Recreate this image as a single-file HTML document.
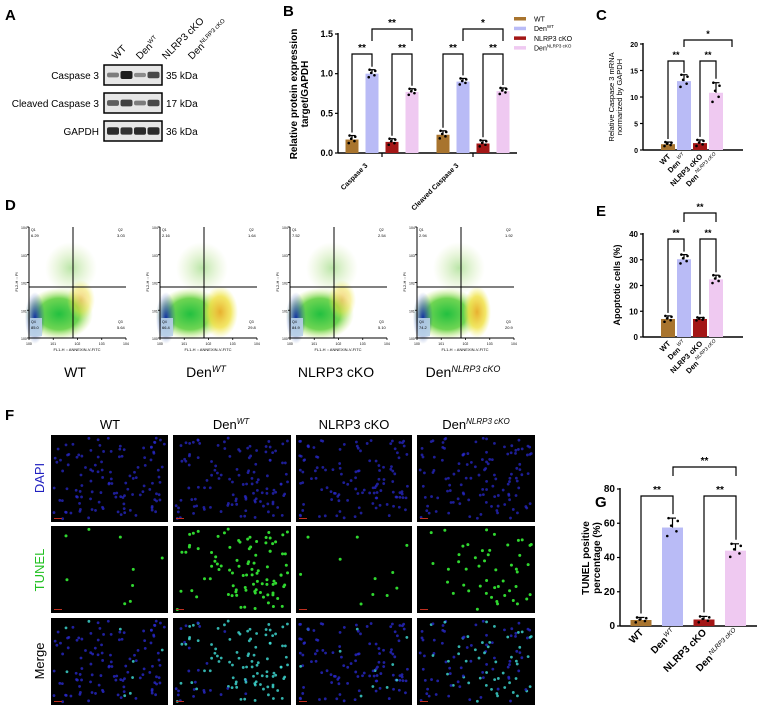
<!DOCTYPE html>
<html><head><meta charset="utf-8">
<style>
body{margin:0;background:#fff;width:760px;height:709px;overflow:hidden;position:relative;font-family:"Liberation Sans",Arial,sans-serif}
svg{position:absolute;left:0;top:0}
</style></head>
<body>
<svg id="fig" width="760" height="709" viewBox="0 0 760 709" font-family="Liberation Sans, Arial, sans-serif">
<defs>
<radialGradient id="gGreen" cx="50%" cy="50%" r="50%"><stop offset="0" stop-color="#22c040"/><stop offset="0.6" stop-color="#5fd040" stop-opacity="0.9"/><stop offset="1" stop-color="#c8e860" stop-opacity="0"/></radialGradient>
<radialGradient id="gBlue" cx="50%" cy="50%" r="50%"><stop offset="0" stop-color="#1030a0"/><stop offset="1" stop-color="#2050b0" stop-opacity="0"/></radialGradient>
<radialGradient id="gYel" cx="50%" cy="50%" r="50%"><stop offset="0" stop-color="#e8b030"/><stop offset="0.6" stop-color="#f0e040" stop-opacity="0.8"/><stop offset="1" stop-color="#f0f060" stop-opacity="0"/></radialGradient>
<radialGradient id="gSpray" cx="50%" cy="50%" r="50%"><stop offset="0" stop-color="#80d060" stop-opacity="0.55"/><stop offset="1" stop-color="#c0e080" stop-opacity="0"/></radialGradient>
</defs>

<!-- Panel A -->
<g>
<text x="5" y="20" font-size="15" font-weight="bold">A</text>
<g font-size="10" text-anchor="start">
<text transform="translate(116,60) rotate(-45)">WT</text>
<text transform="translate(140,60) rotate(-45)">Den<tspan font-size="6" dy="-4">WT</tspan></text>
<text transform="translate(166,60) rotate(-45)">NLRP3 cKO</text>
<text transform="translate(192,60) rotate(-45)">Den<tspan font-size="6" dy="-4">NLRP3 cKO</tspan></text>
</g>
<g font-size="10" text-anchor="end">
<text x="99" y="79">Caspase 3</text>
<text x="99" y="107">Cleaved Caspase 3</text>
<text x="99" y="135">GAPDH</text>
</g>
<g font-size="10">
<text x="166" y="79">35 kDa</text>
<text x="166" y="107">17 kDa</text>
<text x="166" y="135">36 kDa</text>
</g>
<g id="blots"></g>
</g>

<!-- Panel B -->
<g id="chartB">
<text x="283" y="16" font-size="15" font-weight="bold">B</text>
<text transform="translate(297,94) rotate(-90)" text-anchor="middle" font-size="10" font-weight="bold">Relative protein expression</text>
<text transform="translate(308,94) rotate(-90)" text-anchor="middle" font-size="10" font-weight="bold">target/GAPDH</text>
</g>

<!-- Panel C -->
<g id="chartC">
<text x="596" y="20" font-size="15" font-weight="bold">C</text>
<text transform="translate(614,97) rotate(-90)" text-anchor="middle" font-size="7.5">Relative Caspase 3 mRNA</text>
<text transform="translate(622,97) rotate(-90)" text-anchor="middle" font-size="7.5">normarized by GAPDH</text>
</g>

<!-- Panel D -->
<g id="panelD">
<text x="5" y="210" font-size="15" font-weight="bold">D</text>
</g>

<!-- Panel E -->
<g id="chartE">
<text x="596" y="216" font-size="15" font-weight="bold">E</text>
<text transform="translate(620,285) rotate(-90)" text-anchor="middle" font-size="9" font-weight="bold">Apoptotic cells (%)</text>
</g>

<!-- Panel F -->
<g id="panelF">
<text x="5" y="420" font-size="15" font-weight="bold">F</text>
<g font-size="13" text-anchor="middle">
<text x="110" y="429">WT</text>
<text x="231" y="429">Den<tspan font-size="8" dy="-5" font-style="italic">WT</tspan></text>
<text x="354" y="429">NLRP3 cKO</text>
<text x="476" y="429">Den<tspan font-size="8" dy="-5" font-style="italic">NLRP3 cKO</tspan></text>
</g>
<g font-size="13" text-anchor="middle">
<text transform="translate(44,478) rotate(-90)" fill="#2020c0">DAPI</text>
<text transform="translate(44,570) rotate(-90)" fill="#20c020">TUNEL</text>
<text transform="translate(44,661) rotate(-90)" fill="#000">Merge</text>
</g>
</g>

<!-- Panel G -->
<g id="chartG">
<text x="595" y="507" font-size="15" font-weight="bold">G</text>
<text transform="translate(589,558) rotate(-90)" text-anchor="middle" font-size="10" font-weight="bold">TUNEL positive</text>
<text transform="translate(600,558) rotate(-90)" text-anchor="middle" font-size="10" font-weight="bold">percentage (%)</text>
</g>
</svg>

<script>
// ---- data ----
const groupsB = ["Caspase 3", "Cleaved Caspase 3"];
const seriesNames = ["WT", "DenWT", "NLRP3 cKO", "DenNLRP3 cKO"];
const valuesB_casp3 = [0.17, 1.00, 0.14, 0.77];
const valuesB_cleaved = [0.23, 0.90, 0.12, 0.78];
const errB_casp3 = [0.05, 0.05, 0.04, 0.04];
const errB_cleaved = [0.05, 0.04, 0.04, 0.04];
const ticksB = [0, 0.5, 1.0, 1.5];
const valuesC = [1.1, 13.0, 1.3, 10.8];
const errC = [0.4, 1.2, 0.6, 1.9];
const ticksC = [0, 5, 10, 15, 20];
const valuesE = [7.0, 30.2, 7.0, 22.4];
const errE = [1.2, 1.8, 0.6, 1.6];
const ticksE = [0, 10, 20, 30, 40];
const valuesG = [3.5, 57.5, 3.8, 44.0];
const errG = [1.5, 5.5, 1.8, 4.0];
const ticksG = [0, 20, 40, 60, 80];
const flowQ1 = ["6.29", "2.16", "7.52", "2.94"];
const flowQ2 = ["3.03", "1.64", "2.54", "1.92"];
const flowQ3 = ["5.64", "29.8", "5.10", "20.9"];
const flowQ4 = ["85.0", "66.4", "84.9", "74.2"];
const tunelDensity = [0.08, 0.95, 0.07, 0.5];

const colors = ["#a8742e", "#b9bbf6", "#a31616", "#efc9f1"];
const NS = "http://www.w3.org/2000/svg";
function el(parent, tag, attrs, text) {
  const e = document.createElementNS(NS, tag);
  for (const k in attrs) e.setAttribute(k, attrs[k]);
  if (text !== undefined) e.textContent = text;
  parent.appendChild(e);
  return e;
}
// deterministic pseudo-random for image textures only
let seed = 7;
function rnd() { seed = (seed * 16807) % 2147483647; return (seed - 1) / 2147483646; }

// ---- blots ----
(function () {
  const g = document.getElementById("blots");
  const rows = [[65, 85, [0.35, 1, 0.25, 0.7]], [93, 113, [0.55, 0.75, 0.35, 0.7]], [121, 141, [0.9, 0.85, 0.9, 0.9]]];
  rows.forEach((r, ri) => {
    const box = el(g, "rect", { x: 104, y: r[0], width: 58, height: r[1] - r[0], fill: "#e6e6e6", stroke: "#000", "stroke-width": 1.5 });
    
    
    r[2].forEach((d, i) => {
      const b = el(g, "rect", { x: 107 + i * 13.5, y: (r[0] + r[1]) / 2 - (1.5 + d * 2.5), width: 12, height: 3 + d * 5, rx: 2, fill: "#111", opacity: 0.25 + d * 0.7 });
      
      
    });
  });
})();

// ---- generic bar chart ----
function barChart(gid, cfg) {
  const g = document.getElementById(gid);
  const y = v => cfg.y0 - (v / cfg.max) * (cfg.y0 - cfg.yTop);
  const ya = el(g, "line", { x1: cfg.ax, y1: cfg.yTop - 1, x2: cfg.ax, y2: cfg.y0, stroke: "#000", "stroke-width": 1.4 });
  
  
  const xa = el(g, "line", { x1: cfg.ax, y1: cfg.y0, x2: cfg.axEnd, y2: cfg.y0, stroke: "#000", "stroke-width": 1.4 });
  
  
  cfg.ticks.forEach(t => {
    el(g, "line", { x1: cfg.ax - 3, y1: y(t), x2: cfg.ax, y2: y(t), stroke: "#000", "stroke-width": 1.2 });
    const tl = el(g, "text", { x: cfg.ax - 5, y: y(t) + 3, "text-anchor": "end", "font-size": cfg.tickFs, "font-weight": "bold" }, cfg.fmt(t));
    
    
  });
  cfg.sets.forEach((set, si) => {
    set.vals.forEach((v, i) => {
      const cx = set.x0 + i * cfg.step;
      const bar = el(g, "rect", { x: cx - cfg.bw / 2, y: y(v), width: cfg.bw, height: cfg.y0 - y(v), fill: colors[i] });
      
      
      const e = set.err[i];
      el(g, "line", { x1: cx, y1: y(v), x2: cx, y2: y(v + e), stroke: "#000", "stroke-width": 1.2 });
      el(g, "line", { x1: cx - 3.5, y1: y(v + e), x2: cx + 3.5, y2: y(v + e), stroke: "#000", "stroke-width": 1.2 });
      const offs = [-0.9, -0.4, 0.2, 0.7, 1.0];
      const dx = [-4, 3, -1, 4, -3];
      offs.forEach((o, k) => {
        const d = el(g, "circle", { cx: cx + dx[k] * cfg.bw / 16, cy: y(Math.max(0, v + o * e)), r: 1.3, fill: "#000" });
        
        
      });
    });
  });
  cfg.brackets.forEach(b => {
    const p = el(g, "path", { d: `M${b.x1},${b.yl} V${b.y} H${b.x2} V${b.yr}`, fill: "none", stroke: "#000", "stroke-width": 1.2 });
    
    
    const t = el(g, "text", { x: (b.x1 + b.x2) / 2, y: b.y - 3, "text-anchor": "middle", "font-size": cfg.starFs, "font-weight": "bold" }, b.label);
    
    
  });
  return y;
}
function catLabels(gid, xs, y0, fs, supFs) {
  const g = document.getElementById(gid);
  const labs = [["WT", ""], ["Den", "WT"], ["NLRP3 cKO", ""], ["Den", "NLRP3 cKO"]];
  labs.forEach((l, i) => {
    const t = el(g, "text", { transform: `translate(${xs[i] + 3},${y0 + 7}) rotate(-45)`, "text-anchor": "end", "font-size": fs, "font-weight": "bold" });
    
    
    el(t, "tspan", {}, l[0]);
    if (l[1]) el(t, "tspan", { "font-size": supFs, "font-weight": "normal", "font-style": "italic", dy: -4, dx: 1 }, l[1]);
  });
}

// B
(function () {
  const y = v => 153 - v / 1.5 * 119;
  barChart("chartB", {
    y0: 153, yTop: 34, max: 1.5, ax: 338, axEnd: 517, ticks: ticksB, tickFs: 9, starFs: 10,
    fmt: t => t.toFixed(1), bw: 13, step: 20,
    sets: [{ vals: valuesB_casp3, err: errB_casp3, x0: 352 }, { vals: valuesB_cleaved, err: errB_cleaved, x0: 443 }],
    brackets: [
      { x1: 352, x2: 372, y: 54, yl: y(valuesB_casp3[0] + errB_casp3[0]) - 3, yr: y(valuesB_casp3[1] + errB_casp3[1]) - 3, label: "**" },
      { x1: 392, x2: 412, y: 54, yl: y(valuesB_casp3[2] + errB_casp3[2]) - 3, yr: y(valuesB_casp3[3] + errB_casp3[3]) - 3, label: "**" },
      { x1: 372, x2: 412, y: 29, yl: 41, yr: 41, label: "**" },
      { x1: 443, x2: 463, y: 54, yl: y(valuesB_cleaved[0] + errB_cleaved[0]) - 3, yr: y(valuesB_cleaved[1] + errB_cleaved[1]) - 3, label: "**" },
      { x1: 483, x2: 503, y: 54, yl: y(valuesB_cleaved[2] + errB_cleaved[2]) - 3, yr: y(valuesB_cleaved[3] + errB_cleaved[3]) - 3, label: "**" },
      { x1: 463, x2: 503, y: 29, yl: 41, yr: 41, label: "*" }
    ]
  });
  const g = document.getElementById("chartB");
  [382, 473].forEach((cx, i) => {
    el(g, "line", { x1: cx, y1: 153, x2: cx, y2: 157, stroke: "#000", "stroke-width": 1.2 });
    const t = el(g, "text", { transform: `translate(${cx - 14},${166}) rotate(-45)`, "text-anchor": "end", "font-size": 7, "font-weight": "bold" }, groupsB[i]);
    
    
  });
  const legs = [["WT", ""], ["Den", "WT"], ["NLRP3 cKO", ""], ["Den", "NLRP3 cKO"]];
  legs.forEach((l, i) => {
    const yy = 19 + i * 9.7;
    const sw = el(g, "rect", { x: 514, y: yy - 2, width: 12, height: 3.5, fill: colors[i] });
    
    
    const t = el(g, "text", { x: 534, y: yy + 2.5, "font-size": 7 });
    
    
    el(t, "tspan", {}, l[0]);
    if (l[1]) el(t, "tspan", { "font-size": 4.5, dy: -3 }, l[1]);
  });
})();

// C
(function () {
  const y = v => 150 - v / 20 * 106;
  barChart("chartC", {
    y0: 150, yTop: 44, max: 20, ax: 643, axEnd: 743, ticks: ticksC, tickFs: 7, starFs: 9,
    fmt: t => String(t), bw: 14, step: 16,
    sets: [{ vals: valuesC, err: errC, x0: 668 }],
    brackets: [
      { x1: 668, x2: 684, y: 61, yl: y(valuesC[0] + errC[0]) - 3, yr: y(valuesC[1] + errC[1]) - 2, label: "**" },
      { x1: 700, x2: 716, y: 61, yl: y(valuesC[2] + errC[2]) - 3, yr: y(valuesC[3] + errC[3]) - 4, label: "**" },
      { x1: 684, x2: 732, y: 40, yl: 47, yr: 47, label: "*" }
    ]
  });
  catLabels("chartC", [668, 684, 700, 716], 150, 7.5, 5);
})();

// E
(function () {
  const y = v => 337 - v / 40 * 103;
  barChart("chartE", {
    y0: 337, yTop: 234, max: 40, ax: 643, axEnd: 743, ticks: ticksE, tickFs: 8, starFs: 9,
    fmt: t => String(t), bw: 14, step: 16,
    sets: [{ vals: valuesE, err: errE, x0: 668 }],
    brackets: [
      { x1: 668, x2: 684, y: 239, yl: y(valuesE[0] + errE[0]) - 3, yr: y(valuesE[1] + errE[1]) - 3, label: "**" },
      { x1: 700, x2: 716, y: 239, yl: y(valuesE[2] + errE[2]) - 3, yr: y(valuesE[3] + errE[3]) - 3, label: "**" },
      { x1: 684, x2: 716, y: 213, yl: 222, yr: 222, label: "**" }
    ]
  });
  catLabels("chartE", [668, 684, 700, 716], 337, 7.5, 5);
})();

// G
(function () {
  const y = v => 626 - v / 80 * 137;
  barChart("chartG", {
    y0: 626, yTop: 489, max: 80, ax: 620, axEnd: 757, ticks: ticksG, tickFs: 10, starFs: 10,
    fmt: t => String(t), bw: 21, step: 31.5,
    sets: [{ vals: valuesG, err: errG, x0: 641 }],
    brackets: [
      { x1: 641, x2: 673, y: 496, yl: y(valuesG[0] + errG[0]) - 4, yr: y(valuesG[1] + errG[1]) - 4, label: "**" },
      { x1: 704, x2: 736, y: 496, yl: y(valuesG[2] + errG[2]) - 4, yr: y(valuesG[3] + errG[3]) - 4, label: "**" },
      { x1: 673, x2: 736, y: 467, yl: 476, yr: 476, label: "**" }
    ]
  });
  catLabels("chartG", [641, 673, 704, 736], 626, 10, 6.5);
})();

// D flow cytometry
(function () {
  const g = document.getElementById("panelD");
  const lefts = [29, 160, 290, 417];
  const names = [["WT", ""], ["Den", "WT"], ["NLRP3 cKO", ""], ["Den", "NLRP3 cKO"]];
  lefts.forEach((L, i) => {
    const T = 227, B = 338, R = L + 97, qx = L + 44, qy = 287;
    const pg = el(g, "g", {});
    
    
    const den = i === 1 || i === 3;
    el(pg, "ellipse", { cx: L + 42, cy: 268, rx: 26, ry: 26, fill: "url(#gSpray)" });
    el(pg, "ellipse", { cx: L + 30, cy: 314, rx: 34, ry: 26, fill: "url(#gGreen)" });
    if (den) el(pg, "ellipse", { cx: L + 60, cy: 312, rx: i === 1 ? 18 : 14, ry: 26, fill: "url(#gYel)" });
    else el(pg, "ellipse", { cx: L + 52, cy: 300, rx: 14, ry: 20, fill: "url(#gYel)", opacity: 0.6 });
    el(pg, "ellipse", { cx: L + 6, cy: 318, rx: 10, ry: 26, fill: "url(#gBlue)" });
    el(pg, "rect", { x: L + 1, y: 318, width: 12, height: 18, fill: "#b8d0e8", opacity: 0.9 });
    el(pg, "line", { x1: L, y1: T, x2: L, y2: B, stroke: "#000", "stroke-width": 1 });
    el(pg, "line", { x1: L, y1: B, x2: R, y2: B, stroke: "#000", "stroke-width": 1 });
    for (let k = 0; k <= 4; k++) {
      el(pg, "line", { x1: L - 2, y1: B - k * 27.75, x2: L, y2: B - k * 27.75, stroke: "#000", "stroke-width": 0.8 });
      el(pg, "line", { x1: L + k * 24.25, y1: B, x2: L + k * 24.25, y2: B + 2, stroke: "#000", "stroke-width": 0.8 });
      el(pg, "text", { x: L - 8, y: B - k * 27.75 + 2, "font-size": 3.5 }, "10" + k);
      el(pg, "text", { x: L + k * 24.25 - 3, y: B + 7, "font-size": 3.5 }, "10" + k);
    }
    el(pg, "line", { x1: qx, y1: T, x2: qx, y2: B, stroke: "#000", "stroke-width": 1 });
    el(pg, "line", { x1: L, y1: qy, x2: R, y2: qy, stroke: "#000", "stroke-width": 1 });
    el(pg, "text", { x: L + 2, y: T + 4, "font-size": 3.5 }, "Q1");
    el(pg, "text", { x: L + 2, y: T + 10, "font-size": 4 }, flowQ1[i]);
    el(pg, "text", { x: R - 8, y: T + 4, "font-size": 3.5 }, "Q2");
    el(pg, "text", { x: R - 9, y: T + 10, "font-size": 4 }, flowQ2[i]);
    el(pg, "text", { x: R - 8, y: B - 15, "font-size": 3.5 }, "Q3");
    el(pg, "text", { x: R - 9, y: B - 9, "font-size": 4 }, flowQ3[i]);
    el(pg, "text", { x: L + 2, y: B - 15, "font-size": 3.5 }, "Q4");
    el(pg, "text", { x: L + 2, y: B - 9, "font-size": 4 }, flowQ4[i]);
    el(pg, "text", { x: L + 48, y: B + 13, "font-size": 4, "text-anchor": "middle" }, "FL1-H :: ANNEXIN-V-FITC");
    el(pg, "text", { transform: `translate(${L - 11},${282}) rotate(-90)`, "font-size": 4, "text-anchor": "middle" }, "FL2-H :: PI");
    const lab = el(g, "text", { x: L + 46, y: 377, "font-size": 14, "text-anchor": "middle" });
    
    
    el(lab, "tspan", {}, names[i][0]);
    if (names[i][1]) el(lab, "tspan", { "font-size": 9, dy: -5, "font-style": "italic" }, names[i][1]);
  });
})();

// F microscopy
(function () {
  const g = document.getElementById("panelF");
  const cols = [[51, 168], [173, 291], [296, 412], [417, 535]];
  const rows = [[435, 522], [526, 613], [618, 705]];
  cols.forEach((c, ci) => {
    const nuclei = [];
    for (let k = 0; k < 120; k++) nuclei.push([rnd(), rnd(), rnd()]);
    rows.forEach((r, ri) => {
      const w = c[1] - c[0], h = r[1] - r[0];
      const tile = el(g, "rect", { x: c[0], y: r[0], width: w, height: h, fill: "#000" });
      
      
      nuclei.forEach(n => {
        const x = c[0] + 3 + n[0] * (w - 6), y = r[0] + 3 + n[1] * (h - 6);
        const pos = n[2] < tunelDensity[ci] * (0.4 + n[0] * 0.8);
        if (ri === 0) el(g, "circle", { cx: x, cy: y, r: 1.4, fill: "#2828c8", opacity: 0.75 });
        else if (ri === 1) { if (pos) el(g, "circle", { cx: x, cy: y, r: 1.5, fill: "#30d830" }); }
        else el(g, "circle", { cx: x, cy: y, r: 1.4, fill: pos ? "#40e0d8" : "#2828c8", opacity: 0.8 });
      });
      el(g, "rect", { x: c[0] + 3, y: r[1] - 4, width: 8, height: 1, fill: "#c03020" });
    });
  });
})();
</script>
</body></html>
